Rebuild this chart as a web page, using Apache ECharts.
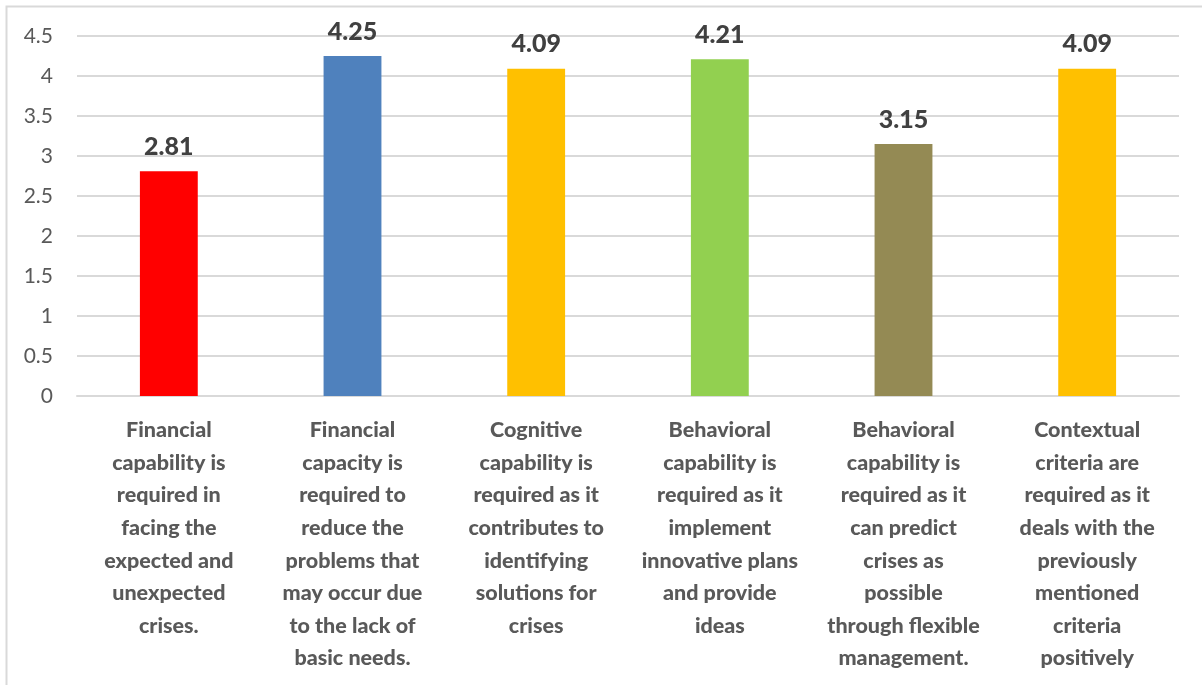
<!DOCTYPE html>
<html>
<head>
<meta charset="utf-8">
<script src="https://cdn.jsdelivr.net/npm/echarts@6/dist/echarts.min.js"></script>
<style>
  html, body { margin: 0; padding: 0; background: #fff; }
  #chart { width: 1202px; height: 685px; }
</style>
</head>
<body>
<div id="chart"></div>
<script>
// Категории (подписи с переносами как на картинке)
const categories = [
    'Financial\ncapability is\nrequired in\nfacing the\nexpected and\nunexpected\ncrises.',
    'Financial\ncapacity is\nrequired to\nreduce the\nproblems that\nmay occur due\nto the lack of\nbasic needs.',
    'Cognitive\ncapability is\nrequired as it\ncontributes to\nidentifying\nsolutions for\ncrises',
    'Behavioral\ncapability is\nrequired as it\nimplement\ninnovative plans\nand provide\nideas',
    'Behavioral\ncapability is\nrequired as it\ncan predict\ncrises as\npossible\nthrough flexible\nmanagement.',
    'Contextual\ncriteria are\nrequired as it\ndeals with the\npreviously\nmentioned\ncriteria\npositively'
];
const values = [2.81, 4.25, 4.09, 4.21, 3.15, 4.09];
const barColors = ['#FF0000', '#4F81BD', '#FFC000', '#92D050', '#948A54', '#FFC000'];

const yMin = 0;
const yMax = 4.5;
const yStep = 0.5;

const myChart = echarts.init(document.getElementById('chart'), null, { renderer: 'canvas' });

const option = {
    animation: false,
    graphic: [
        {
            type: 'polyline',
            shape: { points: [[6.5, 685], [6.5, 6.5], [1202, 6.5]] },
            style: { stroke: '#D9D9D9', lineWidth: 2, fill: null }
        }
    ],
    grid: { left: 77, right: 23, top: 36, bottom: 289, containLabel: false },
    xAxis: {
        type: 'category',
        data: categories,
        axisLine: { show: true, lineStyle: { color: '#D9D9D9', width: 2 } },
        axisTick: { show: false },
        axisLabel: {
            interval: 0,
            color: '#595959',
            fontFamily: 'Lato',
            fontWeight: 900,
            fontSize: 21.5,
            lineHeight: 32.6,
            margin: 18,
            align: 'center'
        }
    },
    yAxis: {
        type: 'value',
        min: yMin,
        max: yMax,
        interval: yStep,
        axisLine: { show: false },
        axisTick: { show: false },
        splitLine: { lineStyle: { color: '#D9D9D9', width: 2 } },
        axisLabel: {
            color: '#595959',
            fontFamily: 'Lato',
            fontSize: 21,
            margin: 24
        }
    },
    series: [
        {
            type: 'bar',
            barWidth: '31.5%',
            data: values.map((v, i) => ({ value: v, itemStyle: { color: barColors[i] } })),
            label: {
                show: true,
                position: 'top',
                distance: 12,
                color: '#404040',
                fontFamily: 'Lato',
                fontWeight: 900,
                fontSize: 25,
                formatter: p => p.value.toFixed(2)
            }
        }
    ]
};

myChart.setOption(option);
</script>
</body>
</html>
